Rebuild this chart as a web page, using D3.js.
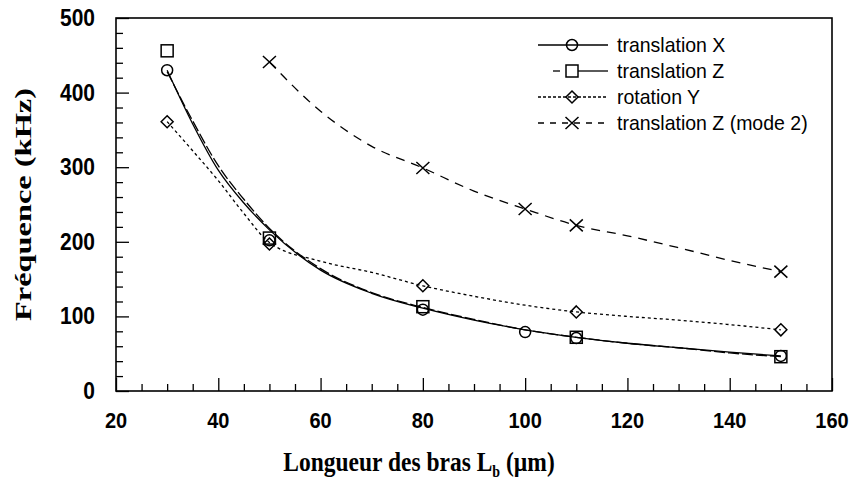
<!DOCTYPE html>
<html>
<head>
<meta charset="utf-8">
<script src="https://cdn.jsdelivr.net/npm/d3@7"></script>
<style>
  html, body { margin: 0; padding: 0; background: #fff; }
  svg { display: block; }
</style>
</head>
<body>
<svg id="chart" width="853" height="479"></svg>
<script>
// Measured resonance frequencies (kHz) against arm length L_b (µm)
const lenX  = [30, 50, 80, 100, 110, 150];
const freqX = [430, 202, 109, 79, 71, 47];          // translation X

const lenZ  = [30, 50, 80, 110, 150];
const freqZ = [456, 205, 113, 72, 46];              // translation Z

const lenRY  = [30, 50, 80, 110, 150];
const freqRY = [361, 197, 141, 106, 82];            // rotation Y

const lenZ2  = [50, 80, 100, 110, 150];
const freqZ2 = [441, 299, 244, 222, 160];           // translation Z (mode 2)

// Trend curves drawn through each series
const trendLen   = [30, 35, 40, 45, 50, 60, 70, 80, 90, 100, 110, 120, 130, 140, 150];
const trendX     = [430, 358, 296, 252, 216, 162, 131, 111, 95, 82, 72, 64, 58, 52, 47];
const trendZ     = [428, 362, 302, 257, 218, 164, 132, 112, 96, 82, 72, 64, 58, 51, 46];
const trendRY    = [361, 322, 282, 238, 199, 174, 159, 141, 127, 115, 106, 100, 95, 89, 82];
const trendLenZ2 = [50, 60, 70, 80, 90, 100, 110, 120, 130, 140, 150];
const trendZ2    = [441, 375, 328, 299, 268, 244, 222, 208, 192, 175, 160];

const xTicks = [20, 40, 60, 80, 100, 120, 140, 160];
const yTicks = [0, 100, 200, 300, 400, 500];

const legendLabels = ["translation X", "translation Z", "rotation Y", "translation Z (mode 2)"];

const svg = d3.select("#chart");
const plot = { left: 116, right: 832, top: 18, bottom: 391 };

const x = d3.scaleLinear().domain([20, 160]).range([plot.left, plot.right]);
const y = d3.scaleLinear().domain([0, 500]).range([plot.bottom, plot.top]);

// Frame
svg.append("rect")
  .attr("x", plot.left).attr("y", plot.top)
  .attr("width", plot.right - plot.left).attr("height", plot.bottom - plot.top)
  .attr("fill", "none").attr("stroke", "#000").attr("stroke-width", 1.6);

// Inward ticks: major + minor
const xMinor = d3.range(20, 161, 5).filter(v => v % 20 !== 0);
const yMinor = d3.range(0, 501, 20).filter(v => v % 100 !== 0);

svg.append("g").attr("transform", `translate(0,${plot.bottom})`)
  .call(d3.axisBottom(x).tickValues(xTicks).tickSize(-13).tickFormat(""));
svg.append("g").attr("transform", `translate(0,${plot.bottom})`)
  .call(d3.axisBottom(x).tickValues(xMinor).tickSize(-7).tickFormat(""));
svg.append("g").attr("transform", `translate(${plot.left},0)`)
  .call(d3.axisLeft(y).tickValues(yTicks).tickSize(-13).tickFormat(""));
svg.append("g").attr("transform", `translate(${plot.left},0)`)
  .call(d3.axisLeft(y).tickValues(yMinor).tickSize(-7).tickFormat(""));
svg.selectAll(".domain").remove();
svg.selectAll(".tick line").attr("stroke", "#000").attr("stroke-width", 1.3);

// Tick labels (slightly tall glyphs)
svg.append("g").selectAll("text").data(xTicks).join("text")
  .attr("transform", d => `translate(${x(d)},428) scale(1,1.12)`)
  .attr("text-anchor", "middle")
  .attr("font-family", "Liberation Sans, Arial, sans-serif")
  .attr("font-weight", "bold").attr("font-size", 20)
  .text(d => d);
svg.append("g").selectAll("text").data(yTicks).join("text")
  .attr("transform", d => `translate(95,${y(d) + 8}) scale(1,1.12)`)
  .attr("text-anchor", "end")
  .attr("font-family", "Liberation Sans, Arial, sans-serif")
  .attr("font-weight", "bold").attr("font-size", 21)
  .text(d => d);

// Axis titles
const xt = svg.append("text")
  .attr("transform", "translate(419,471) scale(1,1.12)")
  .attr("text-anchor", "middle")
  .attr("font-family", "Liberation Serif, Times New Roman, serif")
  .attr("font-weight", "bold").attr("font-size", 23.5);
xt.append("tspan").text("Longueur des bras L");
xt.append("tspan").attr("font-size", 14).attr("dy", 5).text("b");
xt.append("tspan").attr("dy", -5).text(" (µm)");

svg.append("text")
  .attr("transform", `translate(31,${(plot.top + plot.bottom) / 2}) rotate(-90) scale(1.35,1)`)
  .attr("text-anchor", "middle")
  .attr("font-family", "Liberation Serif, Times New Roman, serif")
  .attr("font-weight", "bold").attr("font-size", 24)
  .text("Fréquence (kHz)");

// Series styles
const styles = [
  { dash: null,   marker: "circle"  },
  { dash: "11,3", marker: "square"  },
  { dash: "3,3",  marker: "diamond" },
  { dash: "9,7",  marker: "cross"   }
];

const line = d3.line().x(d => x(d[0])).y(d => y(d[1])).curve(d3.curveMonotoneX);
const trends = [
  d3.zip(trendLen, trendX),
  d3.zip(trendLen, trendZ),
  d3.zip(trendLen, trendRY),
  d3.zip(trendLenZ2, trendZ2)
];
const points = [
  d3.zip(lenX, freqX),
  d3.zip(lenZ, freqZ),
  d3.zip(lenRY, freqRY),
  d3.zip(lenZ2, freqZ2)
];

trends.forEach((t, i) => {
  svg.append("path").datum(t)
    .attr("d", line)
    .attr("fill", "none").attr("stroke", "#000").attr("stroke-width", 1.3)
    .attr("stroke-dasharray", styles[i].dash);
});

function drawMarker(g, kind, cx, cy) {
  const common = s => s.attr("fill", "none").attr("stroke", "#000").attr("stroke-width", 1.5);
  if (kind === "circle") {
    g.append("circle").attr("cx", cx).attr("cy", cy).attr("r", 5.5).call(common);
  } else if (kind === "square") {
    g.append("rect").attr("x", cx - 6).attr("y", cy - 6).attr("width", 12).attr("height", 12).call(common);
  } else if (kind === "diamond") {
    g.append("path").attr("d", `M${cx},${cy - 6}L${cx + 6},${cy}L${cx},${cy + 6}L${cx - 6},${cy}Z`).call(common);
  } else {
    g.append("path").attr("d", `M${cx - 6.5},${cy - 6}L${cx + 6.5},${cy + 6}M${cx - 6.5},${cy + 6}L${cx + 6.5},${cy - 6}`).call(common);
  }
}

const markers = svg.append("g");
points.forEach((pts, i) => {
  pts.forEach(p => drawMarker(markers, styles[i].marker, x(p[0]), y(p[1])));
});

// Legend
const legend = svg.append("g");
const legendRows = [45, 71, 97, 123];
const legendDash = [null, null, "3,2", "6,6"];
legendLabels.forEach((label, i) => {
  const ly = legendRows[i];
  if (i === 1) {
    legend.append("line").attr("x1", 553).attr("x2", 560).attr("y1", ly).attr("y2", ly)
      .attr("stroke", "#000").attr("stroke-width", 1.3);
    legend.append("line").attr("x1", 578).attr("x2", 608).attr("y1", ly).attr("y2", ly)
      .attr("stroke", "#000").attr("stroke-width", 1.3);
  } else {
    legend.append("line")
      .attr("x1", 538).attr("x2", 608).attr("y1", ly).attr("y2", ly)
      .attr("stroke", "#000").attr("stroke-width", 1.3)
      .attr("stroke-dasharray", legendDash[i]);
  }
  drawMarker(legend, styles[i].marker, 572, ly);
  legend.append("text")
    .attr("transform", `translate(617,${ly + 7}) scale(1,1.08)`)
    .attr("font-family", "Liberation Sans, Arial, sans-serif")
    .attr("font-size", 19.5)
    .text(label);
});
</script>
</body>
</html>
